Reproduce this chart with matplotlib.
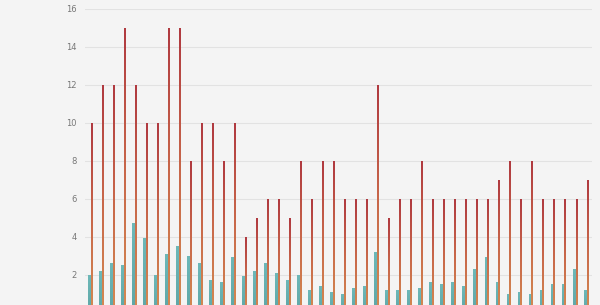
import numpy as np
import matplotlib
matplotlib.use("Agg")
import matplotlib.pyplot as plt
from matplotlib.colors import LinearSegmentedColormap

# -----------------------------
# DATA
# -----------------------------
teal_vals = [2.0, 2.2, 2.6, 2.5, 4.7, 3.9, 2.0, 3.1, 3.5, 3.0,
             2.6, 1.7, 1.6, 2.9, 1.9, 2.2, 2.6, 2.1, 1.7, 2.0,
             1.2, 1.4, 1.1, 1.0, 1.3, 1.4, 3.2, 1.2, 1.2, 1.2,
             1.3, 1.6, 1.5, 1.6, 1.4, 2.3, 2.9, 1.6, 1.0, 1.1,
             1.0, 1.2, 1.5, 1.5, 2.3, 1.2]
red_vals = [10, 12, 12, 15, 12, 10, 10, 15, 15, 8,
            10, 10, 8, 10, 4, 5, 6, 6, 5, 8,
            6, 8, 8, 6, 6, 6, 12, 5, 6, 6,
            8, 6, 6, 6, 6, 6, 6, 7, 8, 6,
            8, 6, 6, 6, 6, 7]
y_ticks = [2, 4, 6, 8, 10, 12, 14, 16]

# -----------------------------
# FIGURE
# -----------------------------
bg = "#f4f4f4"
fig = plt.figure(figsize=(6, 3.05), dpi=100, facecolor=bg)
ax = fig.add_axes([0.1417, -0.0262, 0.845, 0.9967], facecolor=bg)

red_cmap = LinearSegmentedColormap.from_list("red", ["#d48a52", "#c8674a", "#b03a40"])
teal_cmap = LinearSegmentedColormap.from_list("teal", ["#5ea6a6", "#6db8b8"])
grad = np.linspace(0, 1, 100).reshape(-1, 1)


def gradient_bar(x, width, height, cmap):
    ax.imshow(grad, cmap=cmap, origin="lower", aspect="auto",
              extent=(x - width / 2, x + width / 2, 0, height),
              interpolation="bilinear", zorder=3)


for i, (t, r) in enumerate(zip(teal_vals, red_vals)):
    gradient_bar(i - 0.13, 0.27, t, teal_cmap)
    gradient_bar(i + 0.09, 0.18, r, red_cmap)

# -----------------------------
# AXES STYLE
# -----------------------------
ax.set_xlim(-0.55, 45.5)
ax.set_ylim(0, 16)
ax.set_yticks(y_ticks)
ax.set_yticklabels([str(v) for v in y_ticks], fontsize=6, color="#777777")
ax.set_xticks([])
ax.tick_params(axis="y", length=0, pad=6)
ax.grid(axis="y", color="#e2e2e2", linewidth=0.8, zorder=0)
ax.set_axisbelow(True)
for s in ax.spines.values():
    s.set_visible(False)

fig.savefig("out.png", dpi=100, facecolor=bg)
